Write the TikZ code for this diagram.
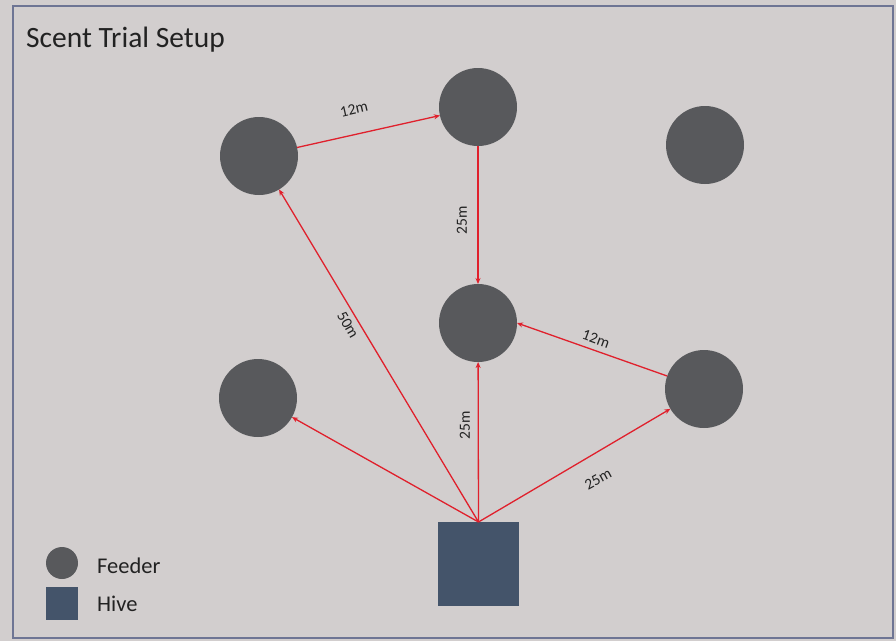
\documentclass[tikz,border=0pt]{standalone}
\usepackage{fontspec}
\setmainfont{Carlito}
\usetikzlibrary{arrows.meta}
\definecolor{bgc}{HTML}{D2CECE}
\definecolor{framec}{HTML}{6E7594}
\definecolor{feederc}{HTML}{58595C}
\definecolor{hivec}{HTML}{44546A}
\definecolor{arrowc}{HTML}{E0202C}
\definecolor{textc}{HTML}{222222}
\tikzset{
  feeder/.style={circle, fill=feederc, minimum size=78pt, inner sep=0pt, outer sep=0pt},
  hivebox/.style={rectangle, fill=hivec, minimum width=81pt, minimum height=84pt, inner sep=0pt, outer sep=0pt},
  link/.style={draw=arrowc, line width=1.3pt, -{Stealth[length=6pt,width=5pt]}},
  dist/.style={font=\fontsize{15.5}{18}\selectfont, text=textc, inner sep=1pt},
  legtext/.style={font=\fontsize{22.5}{26}\selectfont, text=textc, anchor=west, inner sep=0pt}
}
\begin{document}
\begin{tikzpicture}[x=1pt, y=-1pt]
\useasboundingbox (0,0) rectangle (896,641);
\fill[bgc] (0,0) rectangle (896,641);
\draw[framec, line width=2pt] (13,6) rectangle (893,638);
\node[font=\fontsize{29.5}{34}\selectfont, text=textc, anchor=west, inner sep=0pt] (title) at (26,40) {Scent Trial Setup};
% feeders
\node[feeder] (A) at (259,156) {};
\node[feeder] (B) at (478,107) {};
\node[feeder] (C) at (705,145) {};
\node[feeder] (D) at (478,323) {};
\node[feeder] (E) at (258,398) {};
\node[feeder] (F) at (704,389) {};
\node[hivebox] (H) at (478.5,564) {};
% connectors
\draw[link] (A) -- (B);
\draw[link] (B) -- (D);
\draw[link] (F) -- (D.east);
\draw[link] (H.north) -- (A);
\draw[link] (H.north) -- (E);
\draw[link] (H.north) -- (D);
\draw[link] (H.north) -- (F);
% labels
\node[dist, rotate=12.7] (l1) at (354,109) {12m};
\node[dist, rotate=90] (l2) at (462,220) {25m};
\node[dist, rotate=-60] (l3) at (348,325) {50m};
\node[dist, rotate=90] (l4) at (465,425) {25m};
\node[dist, rotate=28.4] (l5) at (598,479) {25m};
\node[dist, rotate=-20] (l6) at (596,339) {12m};
% legend
\node[circle, fill=feederc, minimum size=32pt, inner sep=0pt] (lf) at (62,563) {};
\node[rectangle, fill=hivec, minimum width=32pt, minimum height=33pt, inner sep=0pt] (lh) at (62,603.5) {};
\node[legtext] (tf) at (97,566) {Feeder};
\node[legtext] (th) at (97,604) {Hive};
\end{tikzpicture}
\end{document}
